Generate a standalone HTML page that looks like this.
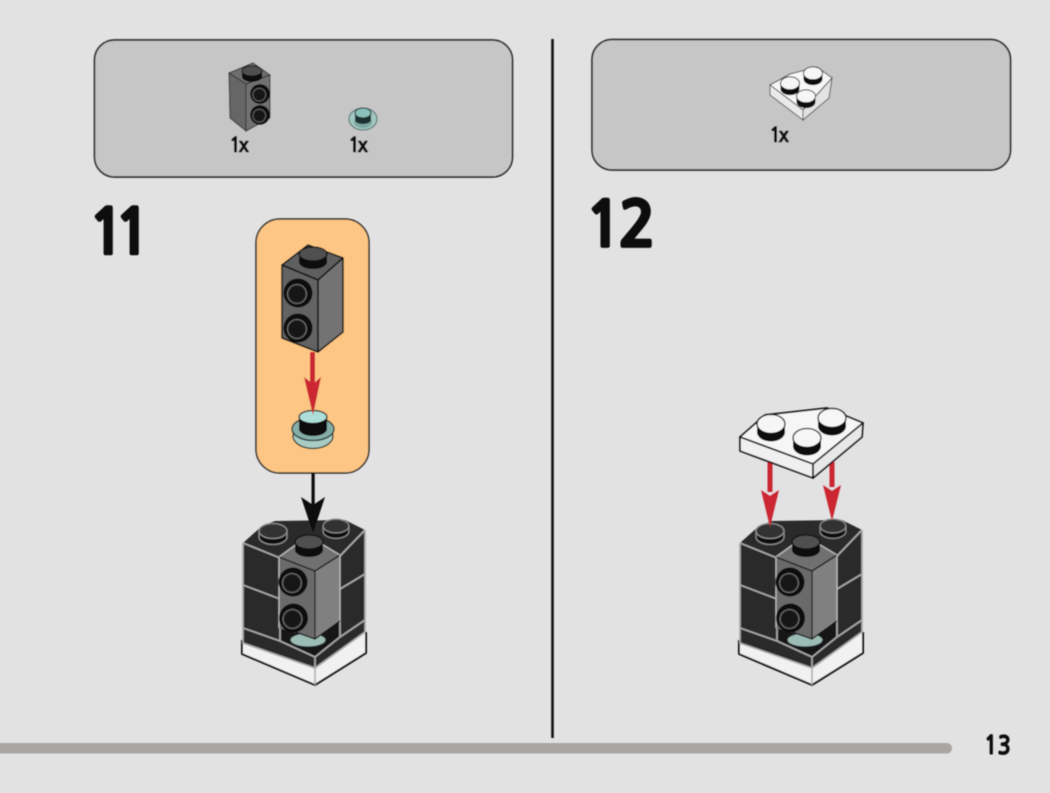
<!DOCTYPE html>
<html><head><meta charset="utf-8">
<style>
html,body{margin:0;padding:0;background:#e2e2e2}
svg{display:block}
text{font-family:"NanumGothic","Liberation Sans",sans-serif;font-weight:700;fill:#111;stroke:#111;stroke-linejoin:round}
</style></head>
<body>
<svg width="1050" height="793" viewBox="0 0 1050 793" xmlns="http://www.w3.org/2000/svg">
<defs>
<filter id="b" x="-5%" y="-5%" width="110%" height="110%"><feGaussianBlur stdDeviation="0.45"/></filter>
<g id="stud">
  <path d="M-14,0 V8 A14,7 0 0 0 14,8 V0 Z" fill="#0d0d0d"/>
  <ellipse cx="0" cy="0" rx="14" ry="7" fill="#4f4f4f" stroke="#0d0d0d" stroke-width="1.300"/>
</g>
<g id="studdark">
  <path d="M-14,0 V6 A14,7.500 0 0 0 14,6 V0 Z" fill="#111" stroke="#8d8d8d" stroke-width="1.300"/>
  <ellipse cx="0" cy="0" rx="14" ry="7.500" fill="#333" stroke="#8d8d8d" stroke-width="1.300"/>
</g>
<g id="side">
  <circle r="14.500" fill="#0e0e0e"/>
  <circle cx="-1" cy="1" r="9.500" fill="#1d1d1d" stroke="#6f6f6f" stroke-width="1.100"/>
  <circle cx="-1" cy="1" r="7" fill="#141414"/>
</g>
<g id="whitestud">
  <path d="M-14,-4 V4 A14,9.500 0 0 0 14,4 V-4 Z" fill="#080808"/>
  <ellipse cx="0" cy="-4" rx="14" ry="9.500" fill="#f6f6f6" stroke="#080808" stroke-width="1.300"/>
</g>
<g id="assembly">
  <polygon points="242,630 242,654 315,685 366,653 366,625" fill="#f1f1f1"/>
  <polyline points="242,640 242,654 315,685 366,653 366,632" fill="none" stroke="#111" stroke-width="2" stroke-linejoin="round"/>
  <line x1="315" y1="668" x2="315" y2="685" stroke="#aaa" stroke-width="1.500"/>
  <polygon points="243,543 262,526 275,521 345,520 365,530 365,632 315,668 243,643" fill="#2a2a2a"/>
  <g fill="none" stroke="#a9a9a9" stroke-width="1.700">
    <polyline points="243,543 243,643 315,668 365,632 365,530"/>
    <line x1="243" y1="543" x2="280" y2="558"/>
    <line x1="243" y1="585" x2="280" y2="599"/>
    <line x1="340" y1="556" x2="365" y2="530"/>
    <line x1="340" y1="589" x2="365" y2="574"/>
    <polyline points="243,628 280,641 315,657 340,637 365,620"/>
    <line x1="315" y1="657" x2="315" y2="668"/>
    <line x1="280" y1="628" x2="280" y2="641"/>
    <line x1="340" y1="621" x2="340" y2="637"/>
  </g>
  <polygon points="281,628 339,622 339,636 315,656 281,640" fill="#171717"/>
  <ellipse cx="308" cy="640" rx="18" ry="7" fill="#9cbdb6" stroke="#222" stroke-width="1.300"/>
  <use href="#studdark" transform="translate(273,531)"/>
  <use href="#studdark" transform="translate(336,526) scale(.92)"/>
  <polygon points="279,557 308,536 340,555 315,571" fill="#6f6f6f" stroke="#b5b5b5" stroke-width="1.400"/>
  <polygon points="279,557 315,571 315,639 279,628" fill="#6b6b6b"/>
  <polygon points="315,571 340,555 340,621 315,639" fill="#808080"/>
  <polyline points="279,557 315,571 340,555" fill="none" stroke="#111" stroke-width="1.400"/>
  <line x1="315" y1="571" x2="315" y2="639" stroke="#111" stroke-width="1.200"/>
  <line x1="340" y1="555" x2="340" y2="621" stroke="#bdbdbd" stroke-width="1.300"/>
  <line x1="279" y1="557" x2="279" y2="628" stroke="#bdbdbd" stroke-width="1.300"/>
  <polyline points="284,628 315,639 340,621" fill="none" stroke="#111" stroke-width="1.300"/>
  <use href="#stud" transform="translate(309,542)"/>
  <use href="#side" transform="translate(293,582)"/>
  <use href="#side" transform="translate(293.500,618)"/>
</g>
</defs>
<rect width="1050" height="793" fill="#e2e2e2"/>
<g filter="url(#b)">
  <!-- panels -->
  <rect x="94.500" y="40" width="418" height="137" rx="20" fill="#c6c6c6" stroke="#2f2f2f" stroke-width="1.700"/>
  <rect x="592" y="39.500" width="418.500" height="130.500" rx="20" fill="#c6c6c6" stroke="#2f2f2f" stroke-width="1.700"/>
  <line x1="552.500" y1="39" x2="552.500" y2="738" stroke="#111" stroke-width="2.600"/>
  <rect x="-10" y="743" width="962" height="10.500" rx="5" fill="#aba5a1"/>

  <!-- small parts -->
  <polygon points="229,73 253,63 270,75 246,84" fill="#6e6e6e" stroke="#333" stroke-width="1"/>
  <polygon points="229,73 246,84 246,131 230,118" fill="#666" stroke="#333" stroke-width="1"/>
  <polygon points="246,84 270,75 270,118 246,131" fill="#717171" stroke="#333" stroke-width="1"/>
  <g transform="translate(252,71) scale(.72)"><use href="#stud"/></g>
  <g transform="translate(260,94) scale(.68)"><use href="#side"/></g>
  <g transform="translate(260,115) scale(.68)"><use href="#side"/></g>
  <ellipse cx="363" cy="119" rx="14" ry="11" fill="#a3c8c2" stroke="#56736f" stroke-width="1.100"/>
  <ellipse cx="363" cy="122" rx="9" ry="6" fill="#7da7a1"/>
  <path d="M355,113 V120 A8,4 0 0 0 371,120 V113 Z" fill="#1f3133"/>
  <ellipse cx="363" cy="113" rx="8" ry="5" fill="#8cc0ba" stroke="#1f3133" stroke-width="1.100"/>

  <polygon points="770,85 790,74 817,67 832,78 803,110" fill="#f6f6f6" stroke="#555" stroke-width="1"/>
  <polygon points="770,85 803,110 803,120 770,95" fill="#eaeaea" stroke="#555" stroke-width="1"/>
  <polygon points="803,110 832,78 829,98 803,120" fill="#e2e2e2" stroke="#555" stroke-width="1"/>
  <g transform="translate(790,86) scale(.68)"><use href="#whitestud"/></g>
  <g transform="translate(813,76) scale(.68)"><use href="#whitestud"/></g>
  <g transform="translate(806,99) scale(.68)"><use href="#whitestud"/></g>

  <!-- labels -->
  <text x="229" y="152" font-size="20" stroke-width=".8" textLength="20" lengthAdjust="spacing">1x</text>
  <text x="348" y="152" font-size="20" stroke-width=".8" textLength="20" lengthAdjust="spacing">1x</text>
  <text x="769" y="142" font-size="20" stroke-width=".8" textLength="20" lengthAdjust="spacing">1x</text>
  <text x="88 114" y="254" font-size="62" stroke-width="2.600">11</text>
  <text x="585" y="246.500" font-size="62" stroke-width="2.800" textLength="71" lengthAdjust="spacing">12</text>
  <text x="984" y="754" font-size="25" stroke-width="1" textLength="27" lengthAdjust="spacingAndGlyphs">13</text>

  <!-- step 11 callout -->
  <rect x="256" y="219" width="113" height="254" rx="24" fill="#fdc684" stroke="#2b2b2b" stroke-width="1.500"/>
  <polygon points="282,265 308,245 343,258 318,280" fill="#5e5e5e" stroke="#111" stroke-width="1.500" stroke-linejoin="round"/>
  <polygon points="282,265 318,280 318,352 282,338" fill="#646464" stroke="#111" stroke-width="1.500" stroke-linejoin="round"/>
  <polygon points="318,280 343,258 343,332 318,352" fill="#737373" stroke="#111" stroke-width="1.500" stroke-linejoin="round"/>
  <use href="#stud" transform="translate(313,254)"/>
  <use href="#side" transform="translate(298,293)"/>
  <use href="#side" transform="translate(298,328)"/>
  <!-- teal plate -->
  <ellipse cx="313" cy="436" rx="20" ry="12.500" fill="#a9ccc4" stroke="#1f2a2a" stroke-width="1.300"/>
  <ellipse cx="313" cy="429" rx="21" ry="11.500" fill="#86aea8" stroke="#1f2a2a" stroke-width="1.300"/>
  <path d="M299,417 V429 A14,7 0 0 0 327,429 V417 Z" fill="#0d0d0d"/>
  <ellipse cx="313" cy="417" rx="14" ry="6.500" fill="#aeded8" stroke="#0d0d0d" stroke-width="1.300"/>
  <!-- red arrow -->
  <rect x="310" y="352" width="5" height="33" fill="#cb2630"/>
  <polygon points="304,377 313,384 321,377 313,415" fill="#cb2630"/>

  <!-- assemblies -->
  <use href="#assembly"/>
  <use href="#assembly" transform="translate(497,0)"/>

  <!-- black arrow -->
  <rect x="311.500" y="473" width="3.200" height="34" fill="#0a0a0a"/>
  <polygon points="301,497 313,505 325,497 313,533" fill="#0a0a0a"/>

  <!-- step 12 red arrows -->
  <rect x="767.500" y="462" width="5" height="30" fill="#cb2630"/>
  <polygon points="761,490 770,496 779,490 770,527" fill="#cb2630"/>
  <rect x="829.500" y="462" width="5" height="25" fill="#cb2630"/>
  <polygon points="823,485 832,491 841,485 832,521" fill="#cb2630"/>

  <!-- wedge plate -->
  <polygon points="740,437 765,415 827,408 863,423 813,464" fill="#f6f6f6" stroke="#111" stroke-width="1.700" stroke-linejoin="round"/>
  <polygon points="740,437 813,464 813,478 740,451" fill="#f0f0f0" stroke="#111" stroke-width="1.700" stroke-linejoin="round"/>
  <polygon points="813,464 863,423 862,437 813,478" fill="#e8e8e8" stroke="#111" stroke-width="1.700" stroke-linejoin="round"/>
  <use href="#whitestud" transform="translate(771,428)"/>
  <use href="#whitestud" transform="translate(807,442)"/>
  <use href="#whitestud" transform="translate(832,422)"/>
</g>
</svg>
</body></html>
